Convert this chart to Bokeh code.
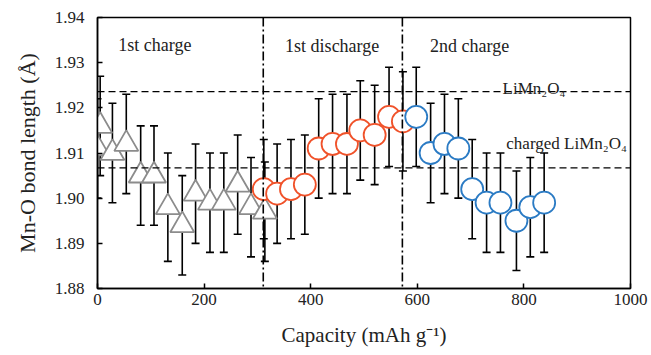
from bokeh.plotting import figure
from bokeh.models import (ColumnDataSource, Whisker, TeeHead, Span, Label,
                          FixedTicker, NumeralTickFormatter, Range1d)
from bokeh.embed import file_html
from bokeh.resources import INLINE

# ---- data ----
charge1_cap = [0, 5, 28, 54, 81, 106, 132, 159, 184, 211, 237, 263, 288, 314]
charge1_val = [1.911, 1.916, 1.910, 1.912, 1.905, 1.905, 1.898, 1.894, 1.901,
               1.899, 1.899, 1.903, 1.898, 1.897]
charge1_err = [0.011, 0.011, 0.011, 0.011, 0.011, 0.011, 0.012, 0.011, 0.011,
               0.011, 0.011, 0.011, 0.011, 0.011]

discharge1_cap = [312, 337, 363, 389, 415, 441, 468, 493, 520, 547, 573]
discharge1_val = [1.902, 1.901, 1.902, 1.903, 1.911, 1.912, 1.912, 1.915,
                  1.914, 1.918, 1.917]
discharge1_err = [0.011] * 11

charge2_cap = [598, 625, 651, 677, 703, 730, 756, 786, 812, 838]
charge2_val = [1.918, 1.910, 1.912, 1.911, 1.902, 1.899, 1.899, 1.895, 1.898,
               1.899]
charge2_err = [0.011] * 10

ref_levels = [1.9236, 1.9067]          # LiMn2O4, charged LiMn2O4
boundaries = [311, 572]                # end of 1st charge, end of 1st discharge

x_ticks = [0, 200, 400, 600, 800, 1000]
y_ticks = [1.88, 1.89, 1.90, 1.91, 1.92, 1.93, 1.94]

FONT = "Liberation Serif"
TXT = "#222222"

p = figure(width=651, height=355, output_backend="svg", toolbar_location=None,
           x_range=Range1d(0, 1000), y_range=Range1d(1.88, 1.94),
           min_border_left=97, min_border_right=21, min_border_top=17,
           min_border_bottom=67)
p.background_fill_color = "white"
p.border_fill_color = "white"
p.outline_line_color = "black"
p.outline_line_width = 1.5
p.grid.visible = False

for ax in (p.xaxis[0], p.yaxis[0]):
    ax.axis_line_color = "black"
    ax.axis_line_width = 1.5
    ax.major_tick_line_color = "black"
    ax.major_tick_line_width = 1.5
    ax.major_tick_in = 5
    ax.major_tick_out = 0
    ax.minor_tick_line_color = None
    ax.major_label_text_font = FONT
    ax.major_label_text_font_size = "17px"
    ax.major_label_text_color = TXT
    ax.axis_label_text_font = FONT
    ax.axis_label_text_font_style = "normal"
    ax.axis_label_text_color = TXT

p.xaxis.axis_label_text_font_size = "21px"
p.yaxis.axis_label_text_font_size = "22px"
p.xaxis.ticker = FixedTicker(ticks=x_ticks)
p.yaxis.ticker = FixedTicker(ticks=y_ticks)
p.yaxis.formatter = NumeralTickFormatter(format="0.00")
p.xaxis.major_label_standoff = 5
p.yaxis.major_label_standoff = 13
p.xaxis.axis_label = "Capacity (mAh g\u207b\u00b9)"
p.yaxis.axis_label = "Mn-O bond length (\u00c5)"
p.xaxis.axis_label_standoff = 15
p.yaxis.axis_label_standoff = 12

# reference lines
for lvl in ref_levels:
    p.add_layout(Span(location=lvl, dimension="width", line_color="black",
                      line_width=1.3, line_dash="7 4"))
for b in boundaries:
    p.add_layout(Span(location=b, dimension="height", line_color="black",
                      line_width=1.6, line_dash="9 3 2 3"))

series = [
    (charge1_cap, charge1_val, charge1_err, "triangle", "#8c8c8c", 24),
    (discharge1_cap, discharge1_val, discharge1_err, "circle", "#f0522a", 22),
    (charge2_cap, charge2_val, charge2_err, "circle", "#2b7bc4", 22),
]
for cap, val, err, marker, color, size in series:
    src = ColumnDataSource(dict(
        x=cap, y=val,
        upper=[v + e for v, e in zip(val, err)],
        lower=[v - e for v, e in zip(val, err)]))
    w = Whisker(source=src, base="x", upper="upper", lower="lower",
                dimension="height", line_color="black", line_width=1.6,
                upper_head=TeeHead(size=8, line_color="black", line_width=1.6),
                lower_head=TeeHead(size=8, line_color="black", line_width=1.6))
    p.add_layout(w)
    p.scatter("x", "y", source=src, marker=marker, size=size,
              fill_color="white", line_color=color, line_width=1.8)

# region & reference labels
labels = [
    ("1st charge", 39, 1.9340, "18px"),
    ("1st discharge", 352, 1.9336, "18px"),
    ("2nd charge", 624, 1.9338, "18px"),
    ("LiMn\u2082O\u2084", 760, 1.9242, "17px"),
    ("charged LiMn\u2082O\u2084", 767, 1.9120, "17px"),
]
for t, x, y, fs in labels:
    p.add_layout(Label(x=x, y=y, text=t, text_font=FONT, text_font_size=fs,
                       text_color=TXT, text_baseline="alphabetic",
                       text_align="left"))

open("out.html", "w").write(file_html(p, INLINE))
